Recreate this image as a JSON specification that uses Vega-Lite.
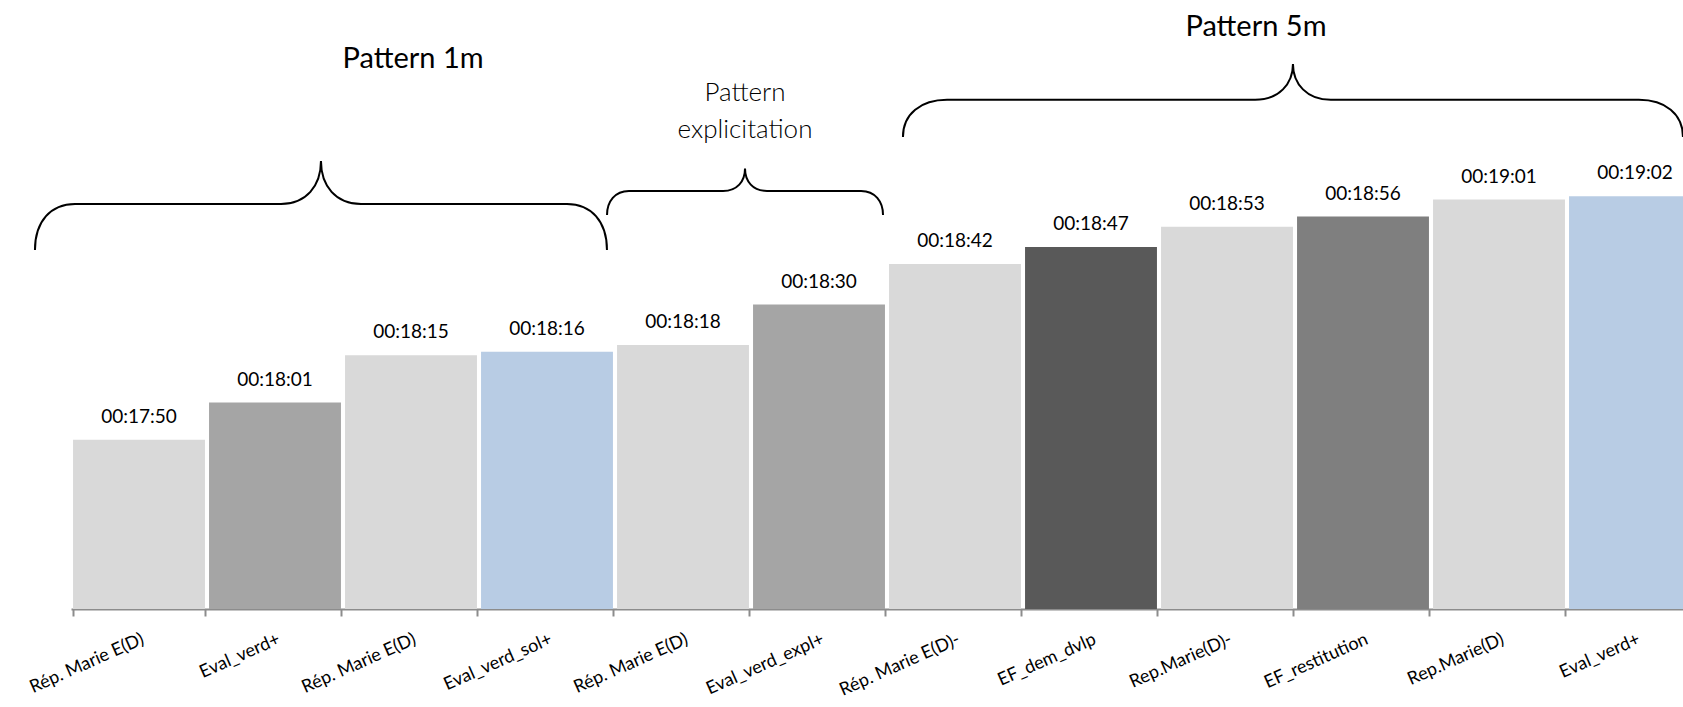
{
  "$schema": "https://vega.github.io/schema/vega-lite/v6.json",
  "width": 1612,
  "height": 609,
  "autosize": "none",
  "padding": {"left": 71, "right": 0, "top": 0, "bottom": 98},
  "background": "white",
  "config": {
    "view": {"stroke": null},
    "font": "Lato"
  },
  "datasets": {
    "bars": [
      {"label": "Rép. Marie E(D)", "time": "00:17:50", "secs": 1070, "type": "Rép"},
      {"label": "Eval_verd+", "time": "00:18:01", "secs": 1081, "type": "Eval"},
      {"label": "Rép. Marie E(D)\u200b", "time": "00:18:15", "secs": 1095, "type": "Rép"},
      {"label": "Eval_verd_sol+", "time": "00:18:16", "secs": 1096, "type": "Eval+"},
      {"label": "Rép. Marie E(D)\u200b\u200b", "time": "00:18:18", "secs": 1098, "type": "Rép"},
      {"label": "Eval_verd_expl+", "time": "00:18:30", "secs": 1110, "type": "Eval"},
      {"label": "Rép. Marie E(D)-", "time": "00:18:42", "secs": 1122, "type": "Rép"},
      {"label": "EF_dem_dvlp", "time": "00:18:47", "secs": 1127, "type": "EF_dem"},
      {"label": "Rep.Marie(D)-", "time": "00:18:53", "secs": 1133, "type": "Rép"},
      {"label": "EF_restitution", "time": "00:18:56", "secs": 1136, "type": "EF_rest"},
      {"label": "Rep.Marie(D)", "time": "00:19:01", "secs": 1141, "type": "Rép"},
      {"label": "Eval_verd+\u200b", "time": "00:19:02", "secs": 1142, "type": "Eval+"}
    ],
    "groups": [
      {"pattern": "Pattern 1m", "bx": 1.838, "by": 1152.4, "tx": 2.515, "ty": 1182.6},
      {"pattern": "Pattern\nexplicitation", "bx": 4.956, "by": 1150.2, "tx": 4.956, "ty": 1172.6},
      {"pattern": "Pattern 5m", "bx": 8.985, "by": 1181.1, "tx": 8.713, "ty": 1192.0}
    ]
  },
  "layer": [
    {
      "data": {"name": "bars"},
      "layer": [
        {
          "mark": {"type": "bar"},
          "encoding": {
            "x": {
              "field": "label",
              "type": "nominal",
              "sort": null,
              "scale": {"range": [0, 1632], "paddingInner": 0.03, "paddingOuter": 0.015},
              "axis": {
                "title": null,
                "domainColor": "#8c8c8c",
                "domainWidth": 2,
                "tickColor": "#8c8c8c",
                "tickWidth": 2,
                "tickSize": 7,
                "tickBand": "extent",
                "labelAngle": -24,
                "labelAlign": "right",
                "labelBaseline": "top",
                "labelFont": "Lato",
                "labelFontSize": 18,
                "labelColor": "#000000",
                "labelPadding": 14,
                "labelOverlap": false,
                "labelBound": false,
                "labelLimit": 400
              }
            },
            "y": {
              "field": "secs",
              "type": "quantitative",
              "scale": {"domain": [1020, 1200], "zero": false, "nice": false},
              "axis": null
            },
            "y2": {"datum": 1020},
            "color": {
              "field": "type",
              "type": "nominal",
              "scale": {
                "domain": ["Rép", "Eval", "Eval+", "EF_dem", "EF_rest"],
                "range": ["#d9d9d9", "#a5a5a5", "#b8cce4", "#595959", "#7f7f7f"]
              },
              "legend": null
            }
          }
        },
        {
          "mark": {"type": "text", "font": "Lato", "fontSize": 19, "color": "#000000", "baseline": "alphabetic", "dy": -17},
          "encoding": {
            "x": {"field": "label", "type": "nominal", "sort": null},
            "y": {"field": "secs", "type": "quantitative"},
            "text": {"field": "time"}
          }
        }
      ]
    },
    {
      "data": {"name": "groups"},
      "layer": [
        {
          "transform": [{"filter": "datum.pattern === 'Pattern 1m'"}],
          "mark": {"type": "point", "filled": false, "stroke": "#000000", "strokeWidth": 2, "opacity": 1, "size": 327184,
            "shape": "M-1,0.311C-1,0.21,-0.944,0.15,-0.86,0.15L-0.14,0.15C-0.052,0.15,0,0.087,0,0C0,0.087,0.052,0.15,0.14,0.15L0.86,0.15C0.944,0.15,1,0.21,1,0.311"},
          "encoding": {
            "x": {"field": "bx", "type": "quantitative", "scale": {"domain": [0, 12], "range": [0, 1632], "nice": false, "zero": false}, "axis": null},
            "y": {"field": "by", "type": "quantitative", "scale": {"domain": [1020, 1200], "zero": false, "nice": false}, "axis": null}
          }
        },
        {
          "transform": [{"filter": "datum.pattern === 'Pattern\\nexplicitation'"}],
          "mark": {"type": "point", "filled": false, "stroke": "#000000", "strokeWidth": 2, "opacity": 1, "size": 76176,
            "shape": "M-1,0.337C-1,0.239,-0.942,0.163,-0.841,0.163L-0.159,0.163C-0.058,0.163,0,0.094,0,0C0,0.094,0.058,0.163,0.159,0.163L0.841,0.163C0.942,0.163,1,0.239,1,0.337"},
          "encoding": {
            "x": {"field": "bx", "type": "quantitative"},
            "y": {"field": "by", "type": "quantitative"}
          }
        },
        {
          "transform": [{"filter": "datum.pattern === 'Pattern 5m'"}],
          "mark": {"type": "point", "filled": false, "stroke": "#000000", "strokeWidth": 2, "opacity": 1, "size": 608400,
            "shape": "M-1,0.187C-1,0.128,-0.954,0.092,-0.887,0.092L-0.097,0.092C-0.036,0.092,0,0.051,0,0C0,0.051,0.036,0.092,0.097,0.092L0.887,0.092C0.954,0.092,1,0.128,1,0.187"},
          "encoding": {
            "x": {"field": "bx", "type": "quantitative"},
            "y": {"field": "by", "type": "quantitative"}
          }
        },
        {
          "transform": [{"filter": "datum.pattern !== 'Pattern\\nexplicitation'"}],
          "mark": {"type": "text", "font": "Lato", "fontSize": 29, "color": "#000000", "baseline": "middle", "align": "center"},
          "encoding": {
            "x": {"field": "tx", "type": "quantitative"},
            "y": {"field": "ty", "type": "quantitative"},
            "text": {"field": "pattern"}
          }
        },
        {
          "transform": [{"filter": "datum.pattern === 'Pattern\\nexplicitation'"}],
          "mark": {"type": "text", "font": "Lato", "fontSize": 26, "fontWeight": 300, "color": "#000000", "baseline": "middle", "align": "center", "lineBreak": "\n", "lineHeight": 37},
          "encoding": {
            "x": {"field": "tx", "type": "quantitative"},
            "y": {"field": "ty", "type": "quantitative"},
            "text": {"field": "pattern"}
          }
        }
      ]
    }
  ],
  "resolve": {"scale": {"x": "independent"}, "axis": {"x": "independent"}}
}
